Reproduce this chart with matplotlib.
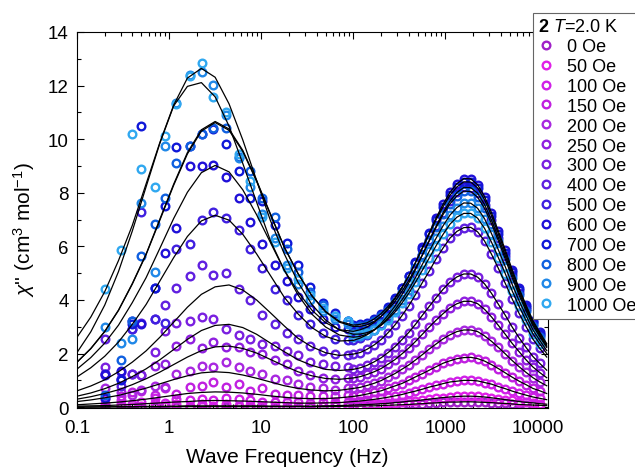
import matplotlib
matplotlib.use("Agg")
import matplotlib.pyplot as plt
from matplotlib import ticker

plt.rcParams['font.family'] = ['Liberation Sans', 'DejaVu Sans']
plt.rcParams['mathtext.fontset'] = 'custom'
plt.rcParams['mathtext.rm'] = 'Liberation Sans'
plt.rcParams['mathtext.it'] = 'Liberation Sans:italic'
plt.rcParams['mathtext.bf'] = 'Liberation Sans:bold'

# dc fields of the 14 curves and their colours (as in the legend)
fields = [0, 50, 100, 150, 200, 250, 300, 400, 500, 600, 700, 800, 900, 1000]
colors = ['#a020c8', '#e020e8', '#d020e8', '#c020e0', '#a828e0', '#9020e0', '#7a20e0',
          '#6020e0', '#4020e0', '#2010d8', '#1018d8', '#1060e0', '#2088e8', '#30a8f0']

freq_fit = [0.1, 0.141, 0.2, 0.282, 0.398, 0.562, 0.794, 1.12, 1.58, 2.24,
            3.16, 4.47, 6.31, 8.91, 12.6, 17.8, 25.1, 35.5, 50.1, 70.8,
            100, 119, 141, 168, 200, 237, 282, 335, 398, 473,
            562, 668, 794, 944, 1122, 1334, 1585, 1884, 2239, 2661,
            3162, 3758, 4467, 5309, 6310, 7499, 8913, 10593, 12589]

# fitted chi'' curves (cm3/mol), one per field; above ~100 Hz the data sit on them
fit_0 = [0.00, 0.00, 0.01, 0.01, 0.01, 0.01, 0.01, 0.02, 0.02, 0.02, 0.02, 0.02, 0.02, 0.02, 0.02, 0.02, 0.02, 0.02, 0.02, 0.03,
         0.04, 0.04, 0.05, 0.05, 0.06, 0.07, 0.08, 0.09, 0.10, 0.12, 0.13, 0.15, 0.16, 0.18, 0.19, 0.19, 0.20, 0.20, 0.19, 0.18,
         0.17, 0.15, 0.14, 0.12, 0.10, 0.09, 0.08, 0.07, 0.06]
fit_50 = [0.01, 0.01, 0.01, 0.02, 0.02, 0.03, 0.03, 0.04, 0.05, 0.05, 0.05, 0.05, 0.05, 0.05, 0.04, 0.04, 0.04, 0.04, 0.05, 0.06,
          0.08, 0.09, 0.10, 0.11, 0.13, 0.14, 0.17, 0.19, 0.22, 0.24, 0.27, 0.30, 0.33, 0.36, 0.38, 0.40, 0.41, 0.41, 0.40, 0.38,
          0.35, 0.32, 0.28, 0.25, 0.21, 0.18, 0.16, 0.13, 0.11]
fit_100 = [0.04, 0.05, 0.06, 0.08, 0.10, 0.13, 0.16, 0.19, 0.21, 0.24, 0.25, 0.24, 0.23, 0.21, 0.19, 0.17, 0.15, 0.15, 0.16, 0.17,
           0.21, 0.23, 0.26, 0.29, 0.33, 0.37, 0.42, 0.47, 0.54, 0.60, 0.67, 0.75, 0.81, 0.88, 0.94, 0.97, 1.00, 1.00, 0.98, 0.92,
           0.86, 0.77, 0.69, 0.60, 0.52, 0.45, 0.38, 0.33, 0.28]
fit_150 = [0.09, 0.12, 0.15, 0.19, 0.24, 0.30, 0.37, 0.44, 0.51, 0.55, 0.57, 0.56, 0.53, 0.48, 0.42, 0.37, 0.33, 0.32, 0.32, 0.35,
           0.40, 0.44, 0.49, 0.55, 0.61, 0.70, 0.79, 0.88, 1.00, 1.13, 1.25, 1.38, 1.51, 1.64, 1.73, 1.81, 1.85, 1.86, 1.81, 1.72,
           1.59, 1.44, 1.28, 1.12, 0.97, 0.84, 0.70, 0.61, 0.51]
fit_200 = [0.21, 0.27, 0.35, 0.44, 0.57, 0.71, 0.87, 1.03, 1.17, 1.28, 1.32, 1.29, 1.20, 1.08, 0.94, 0.80, 0.70, 0.64, 0.61, 0.63,
           0.70, 0.74, 0.81, 0.89, 0.99, 1.12, 1.25, 1.41, 1.57, 1.76, 1.96, 2.17, 2.36, 2.55, 2.70, 2.82, 2.88, 2.88, 2.82, 2.66,
           2.46, 2.23, 1.99, 1.74, 1.51, 1.30, 1.10, 0.94, 0.80]
fit_250 = [0.30, 0.39, 0.51, 0.65, 0.84, 1.06, 1.31, 1.59, 1.87, 2.11, 2.25, 2.28, 2.19, 2.02, 1.78, 1.54, 1.32, 1.17, 1.07, 1.04,
           1.09, 1.14, 1.22, 1.32, 1.44, 1.60, 1.77, 1.98, 2.20, 2.45, 2.72, 2.99, 3.25, 3.49, 3.71, 3.86, 3.95, 3.95, 3.86, 3.65,
           3.37, 3.05, 2.72, 2.38, 2.07, 1.77, 1.50, 1.29, 1.10]
fit_300 = [0.41, 0.53, 0.69, 0.89, 1.14, 1.43, 1.77, 2.15, 2.53, 2.86, 3.05, 3.09, 2.97, 2.72, 2.39, 2.07, 1.77, 1.56, 1.41, 1.37,
           1.41, 1.47, 1.56, 1.69, 1.84, 2.03, 2.25, 2.51, 2.78, 3.09, 3.43, 3.76, 4.09, 4.40, 4.67, 4.86, 4.97, 4.97, 4.85, 4.60,
           4.25, 3.84, 3.43, 2.99, 2.59, 2.23, 1.89, 1.63, 1.38]
fit_400 = [0.61, 0.79, 1.02, 1.32, 1.68, 2.10, 2.61, 3.17, 3.73, 4.21, 4.49, 4.56, 4.37, 4.00, 3.52, 3.03, 2.57, 2.25, 2.03, 1.93,
           1.98, 2.04, 2.16, 2.32, 2.52, 2.77, 3.06, 3.40, 3.77, 4.20, 4.65, 5.08, 5.54, 5.94, 6.31, 6.56, 6.70, 6.71, 6.54, 6.20,
           5.71, 5.18, 4.62, 4.04, 3.50, 3.01, 2.54, 2.19, 1.87]
fit_500 = [1.13, 1.47, 1.90, 2.43, 3.09, 3.83, 4.71, 5.58, 6.37, 6.95, 7.16, 6.98, 6.45, 5.72, 4.91, 4.10, 3.48, 2.97, 2.64, 2.47,
           2.49, 2.58, 2.70, 2.88, 3.12, 3.42, 3.76, 4.18, 4.62, 5.13, 5.68, 6.23, 6.76, 7.26, 7.69, 8.01, 8.20, 8.19, 7.98, 7.56,
           6.98, 6.32, 5.65, 4.93, 4.27, 3.68, 3.11, 2.68, 2.27]
fit_600 = [1.42, 1.85, 2.39, 3.06, 3.90, 4.83, 5.93, 7.04, 8.02, 8.75, 9.02, 8.78, 8.11, 7.18, 6.14, 5.11, 4.30, 3.62, 3.15, 2.89,
           2.83, 2.89, 2.99, 3.16, 3.38, 3.67, 4.03, 4.43, 4.88, 5.40, 5.96, 6.51, 7.07, 7.57, 8.02, 8.34, 8.53, 8.52, 8.30, 7.86,
           7.26, 6.57, 5.87, 5.13, 4.43, 3.81, 3.23, 2.79, 2.37]
fit_700 = [1.68, 2.18, 2.82, 3.61, 4.59, 5.69, 6.98, 8.28, 9.45, 10.30, 10.62, 10.33, 9.54, 8.43, 7.18, 5.97, 4.98, 4.16, 3.57, 3.20,
           3.06, 3.09, 3.15, 3.29, 3.49, 3.75, 4.07, 4.46, 4.89, 5.39, 5.92, 6.46, 7.00, 7.48, 7.91, 8.22, 8.41, 8.40, 8.18, 7.74,
           7.15, 6.47, 5.77, 5.04, 4.37, 3.75, 3.18, 2.74, 2.32]
fit_800 = [1.68, 2.19, 2.83, 3.62, 4.61, 5.71, 7.02, 8.32, 9.50, 10.35, 10.66, 10.38, 9.58, 8.46, 7.21, 5.97, 4.99, 4.15, 3.55, 3.17,
           3.01, 3.02, 3.07, 3.20, 3.39, 3.63, 3.93, 4.31, 4.71, 5.18, 5.68, 6.20, 6.71, 7.19, 7.59, 7.88, 8.06, 8.05, 7.83, 7.42,
           6.85, 6.21, 5.53, 4.83, 4.18, 3.60, 3.04, 2.62, 2.23]
fit_900 = [2.04, 2.81, 3.81, 5.06, 6.57, 8.22, 9.85, 11.24, 11.97, 12.11, 11.58, 10.49, 9.09, 7.65, 6.21, 5.11, 4.19, 3.47, 2.99, 2.69,
           2.61, 2.64, 2.73, 2.87, 3.07, 3.32, 3.63, 3.99, 4.38, 4.84, 5.33, 5.82, 6.31, 6.77, 7.17, 7.45, 7.62, 7.61, 7.42, 7.03,
           6.48, 5.87, 5.24, 4.58, 3.97, 3.42, 2.89, 2.49, 2.11]
fit_1000 = [2.61, 3.36, 4.31, 5.47, 6.78, 8.33, 9.88, 11.27, 12.28, 12.64, 12.31, 11.32, 9.97, 8.46, 6.96, 5.72, 4.66, 3.83, 3.25, 2.88,
            2.72, 2.73, 2.78, 2.89, 3.05, 3.27, 3.54, 3.87, 4.24, 4.66, 5.11, 5.57, 6.03, 6.45, 6.83, 7.09, 7.23, 7.23, 7.05, 6.67,
            6.16, 5.58, 4.98, 4.34, 3.76, 3.24, 2.74, 2.36, 2.00]

# measured points below 100 Hz (noisy)
freq_lo = [0.2, 0.3, 0.4, 0.5, 0.7, 0.9, 1.2, 1.7, 2.3, 3.0, 4.1, 5.7, 7.6, 10.3, 14, 19, 25, 34, 47, 63, 88]
pts_0 = [0.00, 0.05, 0.00, 0.02, 0.00, 0.03, 0.00, 0.02, 0.03, 0.02, 0.02, 0.03, 0.02, 0.02, 0.02, 0.02, 0.02, 0.02, 0.03, 0.03, 0.04]
pts_50 = [0.05, 0.10, 0.02, 0.05, 0.15, 0.05, 0.10, 0.05, 0.10, 0.05, 0.10, 0.05, 0.08, 0.05, 0.05, 0.06, 0.05, 0.06, 0.06, 0.08, 0.09]
pts_100 = [0.10, 0.25, 0.10, 0.20, 0.35, 0.15, 0.30, 0.25, 0.30, 0.25, 0.35, 0.30, 0.25, 0.20, 0.20, 0.20, 0.20, 0.15, 0.20, 0.20, 0.20]
pts_150 = [0.30, 0.40, 0.55, 0.60, 0.45, 0.70, 0.50, 0.75, 0.80, 0.95, 0.75, 0.85, 0.60, 0.70, 0.50, 0.45, 0.45, 0.40, 0.40, 0.40, 0.45]
pts_200 = [0.70, 0.55, 0.45, 0.65, 0.80, 0.75, 1.25, 1.35, 1.55, 1.50, 1.70, 1.50, 1.35, 1.25, 1.05, 1.00, 0.85, 0.75, 0.70, 0.65, 0.70]
pts_250 = [1.25, 1.05, 1.25, 1.20, 1.55, 1.60, 2.30, 2.55, 2.20, 2.45, 2.25, 2.25, 2.05, 2.00, 1.75, 1.60, 1.35, 1.20, 1.10, 1.05, 1.10]
pts_300 = [1.50, 1.30, 2.90, 1.20, 2.05, 2.85, 3.15, 3.20, 3.35, 3.30, 2.90, 2.70, 2.55, 2.35, 2.30, 2.10, 1.95, 1.70, 1.60, 1.55, 1.50]
pts_400 = [2.55, 0.80, 1.25, 3.15, 3.30, 3.80, 4.45, 4.90, 5.30, 4.95, 5.00, 4.40, 4.00, 3.45, 3.10, 2.75, 2.55, 2.30, 2.10, 2.00, 1.95]
pts_500 = [1.20, 1.05, 2.90, 7.30, 3.30, 3.15, 5.90, 6.10, 7.00, 7.30, 7.05, 6.60, 5.90, 5.20, 4.40, 4.00, 3.45, 3.10, 2.75, 2.55, 2.50]
pts_600 = [1.25, 1.35, 3.20, 3.10, 4.45, 5.75, 6.70, 9.00, 9.00, 9.05, 8.60, 7.80, 6.90, 6.10, 5.30, 4.70, 4.10, 3.65, 3.30, 3.00, 2.90]
pts_700 = [0.35, 1.00, 3.10, 10.50, 4.45, 7.50, 9.70, 9.75, 10.19, 10.39, 9.83, 8.80, 7.80, 7.70, 6.80, 6.13, 5.30, 4.50, 3.90, 3.50, 3.20]
pts_800 = [0.45, 1.75, 3.20, 5.65, 6.85, 7.80, 9.10, 9.75, 10.20, 10.40, 10.40, 9.35, 8.80, 7.80, 7.10, 5.90, 5.05, 4.30, 3.80, 3.40, 3.20]
pts_900 = [3.00, 2.40, 2.55, 7.60, 5.05, 9.75, 11.35, 12.40, 12.50, 12.03, 10.90, 9.30, 8.20, 7.20, 6.30, 5.30, 4.60, 4.00, 3.60, 3.30, 3.10]
pts_1000 = [4.40, 5.85, 10.20, 8.90, 8.20, 10.10, 11.30, 12.35, 12.85, 11.56, 11.00, 9.45, 8.45, 7.10, 6.15, 5.20, 4.80, 4.20, 3.70, 3.40, 3.20]

fits = [fit_0, fit_50, fit_100, fit_150, fit_200, fit_250, fit_300,
        fit_400, fit_500, fit_600, fit_700, fit_800, fit_900, fit_1000]
pts = [pts_0, pts_50, pts_100, pts_150, pts_200, pts_250, pts_300,
       pts_400, pts_500, pts_600, pts_700, pts_800, pts_900, pts_1000]

fig = plt.figure(figsize=(6.35, 4.77), dpi=100)
ax = fig.add_axes([0.1213, 0.1426, 0.7417, 0.7883])

hi = [i for i, f in enumerate(freq_fit) if 95 <= f <= 11000]
handles = []
for field, col, y_fit, y_lo in zip(fields, colors, fits, pts):
    x = freq_lo + [freq_fit[i] for i in hi]
    y = y_lo + [y_fit[i] for i in hi]
    h, = ax.plot(x, y, 'o', ms=5.5, mfc='none', mec=col, mew=1.7, zorder=2,
                 label=f'{field} Oe')
    handles.append(h)

for y_fit in fits:
    ax.plot(freq_fit, y_fit, color='k', lw=0.9, zorder=3)

ax.set_xscale('log')
ax.set_xlim(0.1, 13000)
ax.set_ylim(-0.03, 14)
ax.set_xticks([0.1, 1, 10, 100, 1000, 10000])
ax.xaxis.set_major_formatter(ticker.FuncFormatter(lambda v, p: f'{v:g}'))
ax.xaxis.set_minor_formatter(ticker.NullFormatter())
ax.yaxis.set_major_locator(ticker.MultipleLocator(2))
ax.yaxis.set_minor_locator(ticker.MultipleLocator(1))
ax.tick_params(which='both', direction='in', top=True, right=True, labelsize=13.5)
ax.tick_params(which='major', length=5, width=0.8)
ax.tick_params(which='minor', length=3, width=0.8)
ax.tick_params(axis='x', pad=8)
ax.tick_params(axis='y', pad=6)

ax.set_xlabel('Wave Frequency (Hz)', fontsize=15)
ax.xaxis.set_label_coords(0.446, -0.105)
ax.set_ylabel(r"$\chi$'' (cm$^3$ mol$^{-1}$)", fontsize=15)
ax.yaxis.set_label_coords(-0.085, 0.476)

leg = fig.legend(handles=handles, loc='upper left', bbox_to_anchor=(0.839, 0.971),
                 title=r'$\mathbf{2}$ $\mathit{T}$=2.0 K', fontsize=13, title_fontsize=13,
                 frameon=True, fancybox=False, framealpha=1, edgecolor='#666666',
                 labelspacing=0.16, handlelength=0.9, handletextpad=0.7,
                 borderpad=0.3, borderaxespad=0, alignment='left')
leg.get_frame().set_linewidth(0.8)

fig.savefig('out.png', dpi=100)
